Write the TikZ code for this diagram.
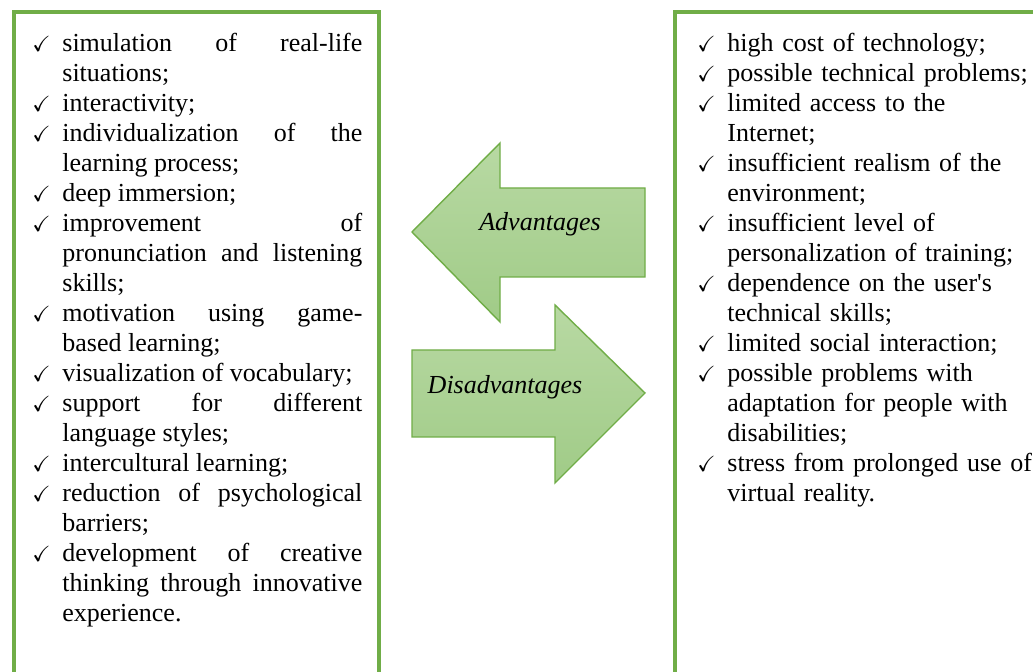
\documentclass[tikz,border=0pt]{standalone}
\usepackage{amssymb}
\usepackage{fontspec}
\setmainfont{Liberation Serif}
\definecolor{boxgreen}{RGB}{112,173,71}
\definecolor{arrowtop}{RGB}{184,217,163}
\definecolor{arrowbot}{RGB}{160,203,135}
% one ticked entry with a hanging indent
\newcommand{\tickitem}[1]{\hangindent=15pt\hangafter=1\noindent\makebox[15pt][l]{\fontsize{11}{11}\selectfont$\checkmark$}#1\par}
\tikzset{
  listbox/.style={draw=boxgreen, line width=2pt},
  listtext/.style={anchor=north west, inner sep=0pt, text width=#1, font=\fontsize{13}{15}\selectfont},
  bigarrow/.style={draw=boxgreen, line width=0.7pt, top color=arrowtop, bottom color=arrowbot},
  arrowlabel/.style={anchor=base, font=\fontsize{13}{15}\selectfont\itshape}
}
\begin{document}
\begin{tikzpicture}[x=0.5pt,y=-0.5pt]
        \clip (0,0) rectangle (1033,672);
        \fill[white] (0,0) rectangle (1033,672);
        % the two lists
        \draw[listbox] (14,12) rectangle (379,700);
        \draw[listbox] (675,12) rectangle (1060,700);
        \node[listtext=165pt, align=justify] (pros) at (32,33) {%
          \tickitem{simulation of real-life\linebreak situations;}
          \tickitem{interactivity;}
          \tickitem{individualization of the\linebreak learning process;}
          \tickitem{deep immersion;}
          \tickitem{improvement of\linebreak pronunciation and listening\linebreak skills;}
          \tickitem{motivation using game-\linebreak based learning;}
          \tickitem{visualization of vocabulary;}
          \tickitem{support for different\linebreak language styles;}
          \tickitem{intercultural learning;}
          \tickitem{reduction of psychological\linebreak barriers;}
          \tickitem{development of creative\linebreak thinking through innovative\linebreak experience.}};
        \node[listtext=170pt, align=left] (cons) at (697,33) {%
          \tickitem{high cost of technology;}
          \tickitem{possible technical problems;}
          \tickitem{limited access to the\newline Internet;}
          \tickitem{insufficient realism of the\newline environment;}
          \tickitem{insufficient level of\newline personalization of training;}
          \tickitem{dependence on the user\textquotesingle s\newline technical skills;}
          \tickitem{limited social interaction;}
          \tickitem{possible problems with\newline adaptation for people with\newline disabilities;}
          \tickitem{stress from prolonged use of\newline virtual reality.}};
        % the two arrows between them
        \draw[bigarrow] (412,232) -- (500,143) -- (500,188) -- (645,188) -- (645,277) -- (500,277) -- (500,322) -- cycle;
        \draw[bigarrow] (412,350) -- (555,350) -- (555,305) -- (645,393) -- (555,483) -- (555,437) -- (412,437) -- cycle;
        \node[arrowlabel] (adv) at (540,231) {Advantages};
        \node[arrowlabel] (dis) at (505,394) {Disadvantages};
\end{tikzpicture}
\end{document}
